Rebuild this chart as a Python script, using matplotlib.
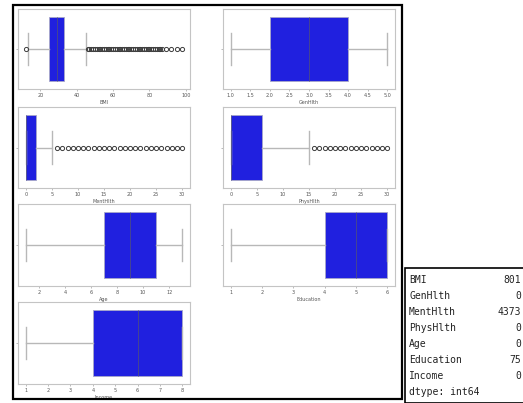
import matplotlib
matplotlib.use("Agg")
import matplotlib.pyplot as plt
from matplotlib.patches import Rectangle

W, H = 523, 403

# ---- data ----
columns = ["BMI", "GenHlth", "MentHlth", "PhysHlth", "Age", "Education", "Income"]
whislo = [13, 1, 0, 0, 1, 1, 1]
q1 = [25, 2, 0, 0, 7, 4, 4]
med = [29, 3, 0, 0, 9, 5, 6]
q3 = [33, 4, 2, 6, 11, 6, 8]
whishi = [45, 5, 5, 15, 13, 6, 8]
bmi_outliers = [12, 46, 47, 48, 49, 50, 51, 52, 53, 54, 55, 56, 57, 58, 59, 60,
                61, 62, 63, 64, 65, 66, 67, 68, 69, 70, 71, 72, 73, 74, 75, 76,
                77, 78, 79, 80, 81, 82, 83, 84, 85, 86, 87, 89, 92, 95, 98]
menthlth_outliers = [6, 7, 8, 9, 10, 11, 12, 13, 14, 15, 16, 17, 18, 19, 20,
                     21, 22, 23, 24, 25, 26, 27, 28, 29, 30]
physhlth_outliers = [16, 17, 18, 19, 20, 21, 22, 23, 24, 25, 26, 27, 28, 29, 30]
fliers = [bmi_outliers, [], menthlth_outliers, physhlth_outliers, [], [], []]
xticks = [
    [20, 40, 60, 80, 100],
    [1.0, 1.5, 2.0, 2.5, 3.0, 3.5, 4.0, 4.5, 5.0],
    [0, 5, 10, 15, 20, 25, 30],
    [0, 5, 10, 15, 20, 25, 30],
    [2, 4, 6, 8, 10, 12],
    [1, 2, 3, 4, 5, 6],
    [1, 2, 3, 4, 5, 6, 7, 8],
]
xtick_labels = [
    ["20", "40", "60", "80", "100"],
    ["1.0", "1.5", "2.0", "2.5", "3.0", "3.5", "4.0", "4.5", "5.0"],
    ["0", "5", "10", "15", "20", "25", "30"],
    ["0", "5", "10", "15", "20", "25", "30"],
    ["2", "4", "6", "8", "10", "12"],
    ["1", "2", "3", "4", "5", "6"],
    ["1", "2", "3", "4", "5", "6", "7", "8"],
]
outlier_counts = [801, 0, 4373, 0, 0, 75, 0]

# ---- layout (pixels) ----
col_lr = [(18, 190), (223, 395)]
row_tb = [(9, 89), (107, 188), (204, 286), (302, 384)]

fig = plt.figure(figsize=(W / 100, H / 100), dpi=100)
fig.patch.set_facecolor("white")

box_color = "#2020df"
line_color = "#b8b8b8"

for i, name in enumerate(columns):
    r, c = divmod(i, 2)
    l, rr = col_lr[c]
    t, b = row_tb[r]
    ax = fig.add_axes([l / W, 1 - b / H, (rr - l) / W, (b - t) / H])
    stats = [{
        "whislo": whislo[i], "q1": q1[i], "med": med[i], "q3": q3[i],
        "whishi": whishi[i], "fliers": fliers[i], "label": "",
    }]
    ax.bxp(stats, positions=[0], widths=0.8, vert=False, patch_artist=True,
           capwidths=0.4,
           boxprops=dict(facecolor=box_color, edgecolor="#a8a8c8", linewidth=0.6),
           medianprops=dict(color="#4a4a88", linewidth=0.6),
           whiskerprops=dict(color=line_color, linewidth=1.0),
           capprops=dict(color=line_color, linewidth=1.0),
           flierprops=dict(marker="o", markersize=3.0, markerfacecolor="none",
                           markeredgecolor="#3c3c3c", markeredgewidth=0.7))
    ax.set_ylim(0.5, -0.5)
    ax.set_yticks([0])
    ax.set_yticklabels([""])
    ax.set_xticks(xticks[i])
    ax.set_xticklabels(xtick_labels[i])
    ax.tick_params(axis="both", labelsize=3.5, length=1.5, width=0.4,
                   colors="#888888", labelcolor="#555555", pad=1.5)
    ax.set_xlabel(name, fontsize=3.5, color="#555555", labelpad=1.5)
    for s in ax.spines.values():
        s.set_color("#c4c4c4")
        s.set_linewidth(0.8)

# outer frame around the grid of plots
x0, y0, x1, y1 = 13, 5, 402, 399
fig.add_artist(Rectangle((x0 / W, 1 - y1 / H), (x1 - x0) / W, (y1 - y0) / H,
                         transform=fig.transFigure, fill=False,
                         edgecolor="black", linewidth=1.6))

# text box with the outlier counts
bx0, by0 = 405, 268
fig.add_artist(Rectangle((bx0 / W, 0), (W + 5 - bx0) / W, 1 - by0 / H,
                         transform=fig.transFigure, fill=False,
                         edgecolor="black", linewidth=1.2))
line_h = 16
for k, name in enumerate(columns):
    yy = 280 + k * line_h
    fig.text(409 / W, 1 - yy / H, name, family="DejaVu Sans Mono", fontsize=7,
             va="center", ha="left", color="#222222")
    fig.text(521.5 / W, 1 - yy / H, str(outlier_counts[k]),
             family="DejaVu Sans Mono", fontsize=7, va="center", ha="right",
             color="#222222")
fig.text(409 / W, 1 - (280 + 7 * line_h) / H, "dtype: int64",
         family="DejaVu Sans Mono", fontsize=7, va="center", ha="left",
         color="#222222")

fig.savefig("out.png", dpi=100)
